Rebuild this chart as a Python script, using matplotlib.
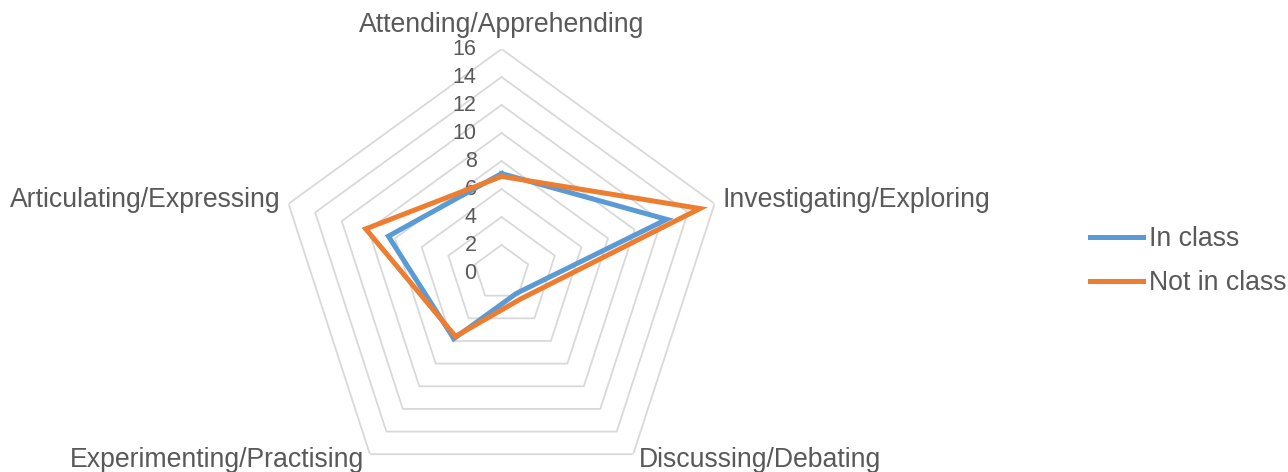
import numpy as np
import matplotlib
matplotlib.use('Agg')
import matplotlib.pyplot as plt

# data
categories = ['Attending/Apprehending', 'Investigating/Exploring', 'Discussing/Debating',
              'Experimenting/Practising', 'Articulating/Expressing']
in_class = [7.1, 12.4, 1.8, 5.8, 8.5]
not_in_class = [6.9, 14.9, 2.3, 5.6, 10.2]
series_names = ['In class', 'Not in class']
ticks = [0, 2, 4, 6, 8, 10, 12, 14, 16]

blue = '#5B9BD5'
orange = '#ED7D31'
grid_col = '#D9D9D9'
text_col = '#595959'

plt.rcParams['font.family'] = ['Liberation Sans', 'DejaVu Sans']

fig = plt.figure(figsize=(12.88, 4.72), dpi=100)
# polar axes sized so that r=16 is 224 px from centre (501.5, 273)
ax = fig.add_axes([0.2155, -0.053, 0.3478, 0.9492], projection='polar')
ax.set_theta_zero_location('N')
ax.set_theta_direction(-1)
ax.set_ylim(0, 16)
ax.grid(False)
ax.spines['polar'].set_visible(False)
ax.set_xticks([])
ax.set_yticks([])
ax.patch.set_alpha(0)

N = len(categories)
angles = [n / float(N) * 2 * np.pi for n in range(N)]
angles_closed = angles + angles[:1]

# pentagon gridlines
for r in ticks[1:]:
    ax.plot(angles_closed, [r] * (N + 1), color=grid_col, linewidth=1.3, zorder=1)

# tick labels along the top spoke
for r in ticks:
    ax.annotate(str(r), xy=(0, r), xytext=(-18, 0), textcoords='offset points',
                ha='right', va='center', fontsize=15.5, color=text_col)

# series
for vals, col, name in [(in_class, blue, series_names[0]), (not_in_class, orange, series_names[1])]:
    ax.plot(angles_closed, vals + vals[:1], color=col, linewidth=3.6, label=name,
            solid_joinstyle='miter', zorder=3)

# category labels
label_pos = [((0, 8), 'center', 'bottom'),
             ((6, 3), 'left', 'center'),
             ((4, -4), 'left', 'center'),
             ((-4, -4), 'right', 'center'),
             ((-6, 3), 'right', 'center')]
for a, cat, (off, ha, va) in zip(angles, categories, label_pos):
    ax.annotate(cat, xy=(a, 16), xytext=off, textcoords='offset points',
                ha=ha, va=va, fontsize=19.2, color=text_col, annotation_clip=False)

leg = fig.legend(loc='center left', bbox_to_anchor=(1090 / 1288, (472 - 261) / 472),
                 frameon=False, fontsize=19.2, handlelength=2.0, handletextpad=0.22,
                 labelspacing=0.68, borderpad=0, borderaxespad=0)
for t in leg.get_texts():
    t.set_color(text_col)

fig.savefig('out.png', dpi=100)
